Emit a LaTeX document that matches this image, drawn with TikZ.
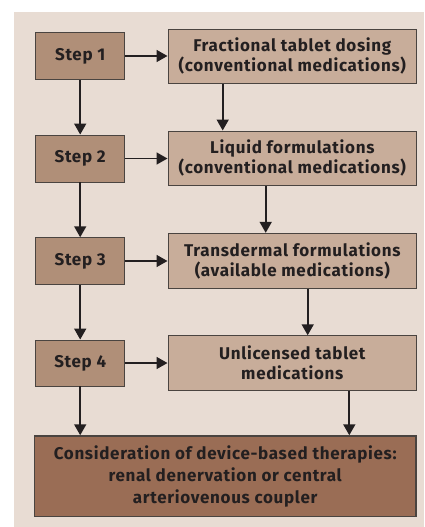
\documentclass[tikz,border=0pt]{standalone}
\usepackage{fontspec}
\setmainfont{Fira Sans}[UprightFont=* Bold, BoldFont=* Bold, LetterSpace=4]
\usetikzlibrary{arrows.meta}
\definecolor{bgc}{HTML}{E8DCD3}
\definecolor{stepc}{HTML}{B08F78}
\definecolor{optc}{HTML}{C8AD9A}
\definecolor{devc}{HTML}{9A6D55}
\definecolor{edgec}{HTML}{4A4440}
\definecolor{txtc}{HTML}{231F20}
\tikzset{
  stepbox/.style={draw=edgec, line width=0.9pt, fill=stepc, text=txtc, font=\fontsize{17}{20}\selectfont},
  optbox/.style={draw=edgec, line width=0.9pt, fill=optc, text=txtc, align=center, font=\fontsize{17}{20}\selectfont},
  devbox/.style={draw=edgec, line width=1.4pt, fill=devc, text=txtc, align=center, font=\fontsize{17}{22}\selectfont},
  arr/.style={draw=txtc, line width=1.7pt, -{Triangle[width=12pt,length=11pt]}}
}
\begin{document}
\begin{tikzpicture}[x=1pt,y=-1pt]
\useasboundingbox (0,0) rectangle (424,527);
\fill[white] (0,0) rectangle (424,527);
\fill[bgc] (14,12) rectangle (424,527);
% step boxes
\node[stepbox, minimum width=89pt, minimum height=46.6pt] (s1) at (80.2,56) {Step 1};
\node[stepbox, minimum width=89pt, minimum height=47pt] (s2) at (80.2,158.5) {Step 2};
\node[stepbox, minimum width=89pt, minimum height=46.6pt] (s3) at (80.2,261) {Step 3};
\node[stepbox, minimum width=89pt, minimum height=46pt] (s4) at (80.2,363) {Step 4};
% option boxes
\node[optbox, minimum width=248.7pt, minimum height=54.3pt] (o1) at (292.3,56.2) {Fractional tablet dosing\\(conventional medications)};
\node[optbox, minimum width=248.7pt, minimum height=54.7pt] (o2) at (292.3,158.3) {Liquid formulations\\(conventional medications)};
\node[optbox, minimum width=248.7pt, minimum height=55pt] (o3) at (292.3,260.8) {Transdermal formulations\\(available medications)};
\node[optbox, minimum width=248.7pt, minimum height=55pt] (o4) at (292.3,363.2) {Unlicensed tablet\\medications};
% device box
\node[devbox, minimum width=381.7pt, minimum height=80.7pt] (dev) at (225.2,476.3) {Consideration of device-based therapies:\\renal denervation or central\\arteriovenous coupler};
% arrows right
\draw[arr] (s1.east) -- (o1.west |- s1.east);
\draw[arr] (s2.east) -- (o2.west |- s2.east);
\draw[arr] (s3.east) -- (o3.west |- s3.east);
\draw[arr] (s4.east) -- (o4.west |- s4.east);
% arrows down left
\draw[arr] (s1.south) -- (s2.north);
\draw[arr] (s2.south) -- (s3.north);
\draw[arr] (s3.south) -- (s4.north);
\draw[arr] (s4.south) -- (s4.south |- dev.north);
% arrows down right
\coordinate (a1) at (222.7,0);
\coordinate (a2) at (265.7,0);
\coordinate (a3) at (307.7,0);
\coordinate (a4) at (349.3,0);
\draw[arr] (a1 |- o1.south) -- (a1 |- o2.north);
\draw[arr] (a2 |- o2.south) -- (a2 |- o3.north);
\draw[arr] (a3 |- o3.south) -- (a3 |- o4.north);
\draw[arr] (a4 |- o4.south) -- (a4 |- dev.north);
\end{tikzpicture}
\end{document}
